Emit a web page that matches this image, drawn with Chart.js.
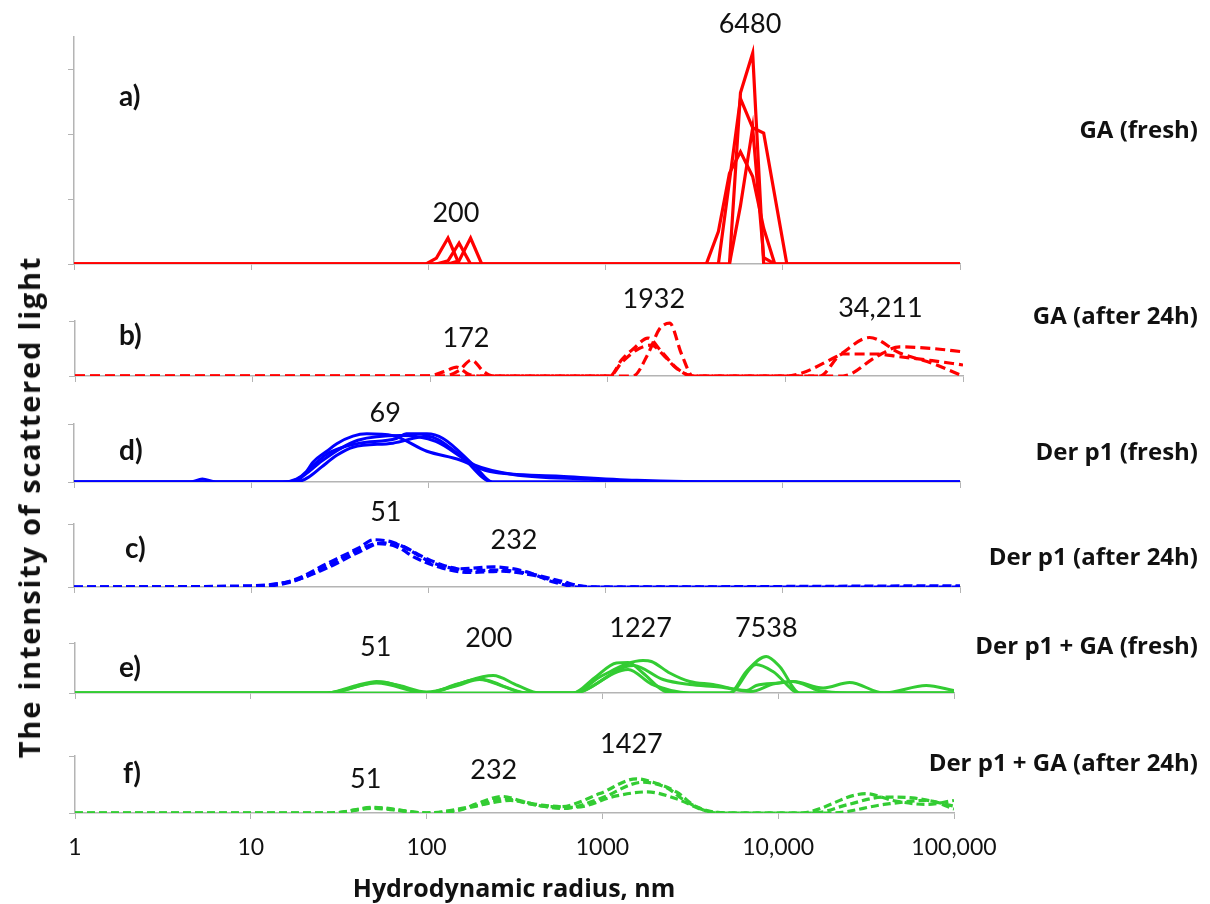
<!DOCTYPE html>
<html>
<head>
<meta charset="utf-8">
<title>Hydrodynamic radius distributions</title>
<script src="https://cdn.jsdelivr.net/npm/chart.js@4.4.1/dist/chart.umd.min.js"></script>
<style>
  body { margin: 0; background: #fff; }
  #wrap { position: relative; width: 1210px; height: 904px; background: #fff; overflow: hidden; }
  #wrap canvas { position: absolute; left: 0; top: 0; }
  .axisTitle { position: absolute; font-family: "Open Sans", sans-serif; font-weight: bold; color: #111; white-space: nowrap; }
  #xTitle { left: 514px; top: 875px; font-size: 25px; line-height: 24px; transform: translateX(-50%); }
  #yTitle { left: 29px; top: 507px; font-size: 29px; line-height: 30px; letter-spacing: 1.8px; transform: translate(-50%, -50%) rotate(-90deg); }
</style>
</head>
<body>
<div id="wrap">
  <canvas id="pa" width="1210" height="904"></canvas>
  <canvas id="pb" width="1210" height="904"></canvas>
  <canvas id="pd" width="1210" height="904"></canvas>
  <canvas id="pc" width="1210" height="904"></canvas>
  <canvas id="pe" width="1210" height="904"></canvas>
  <canvas id="pf" width="1210" height="904"></canvas>
  <div class="axisTitle" id="xTitle">Hydrodynamic radius, nm</div>
  <div class="axisTitle" id="yTitle">The intensity of scattered light</div>
</div>
<script>
// eje x compartido (radio, nm)
const xDecades = [1, 10, 100, 1000, 10000, 100000];
const xTickLabels = ['1', '10', '100', '1000', '10,000', '100,000'];

// a) GA (fresh)  -  [radio, intensidad]
const gaFresh1 = [[1, 0], [97, 0], [111, 0.9], [129, 4.0], [149, 0], [5000, 0], [5770, 26.4], [6760, 32.5], [7800, 0], [100000, 0]];
const gaFresh2 = [[1, 0], [111, 0], [129, 0.5], [149, 3.2], [173, 0], [3700, 0], [4330, 5.0], [5000, 14.0], [5770, 17.3], [6760, 13.5], [7800, 5.5], [9010, 0], [100000, 0]];
const gaFresh3 = [[1, 0], [129, 0], [149, 0.5], [173, 4.0], [200, 0], [4330, 0], [5770, 25.5], [6760, 21.0], [7800, 20.2], [10540, 0], [100000, 0]];
const gaFresh4 = [[1, 0], [5000, 0], [5770, 9.0], [6760, 21.0], [7800, 1.0], [9010, 0], [100000, 0]];

// b) GA (after 24h)
const gaAged1 = [[1, 0], [97, 0], [120, 0.8], [141, 1.6], [165, 0.3], [190, 0], [1025, 0], [1200, 3.0], [1400, 5.0], [1683, 6.9], [2000, 4.5], [2430, 1.5], [3017, 0], [10000, 0], [15600, 0], [21100, 4.0], [32500, 4.0], [44000, 3.5], [67000, 2.8], [100000, 2.0]];
const gaAged2 = [[1, 0], [120, 0], [145, 1.0], [171, 2.9], [200, 0.8], [225, 0], [1386, 0], [1683, 4.0], [1950, 8.5], [2230, 9.6], [2600, 4.0], [3017, 0], [21100, 0], [32500, 3.5], [44000, 5.3], [67000, 5.0], [100000, 4.4]];
const gaAged3 = [[1, 0], [1025, 0], [1200, 2.5], [1500, 5.0], [1760, 5.6], [2100, 3.5], [2432, 1.4], [3017, 0], [10100, 0], [19300, 3.5], [29800, 7.0], [44000, 4.2], [67000, 2.3], [100000, 0]];

// d) Der p1 (fresh)
const derFresh1 = [[1, 0], [4.5, 0], [5.3, 0.5], [6.3, 0], [15, 0], [18, 0.5], [20.5, 1.8], [22.3, 3.4], [26.7, 5.3], [30.4, 6.6], [37.5, 7.9], [44.9, 8.3], [63, 8.0], [98, 5.3], [151, 3.8], [183, 2.7], [223, 1.8], [553, 1.0], [1500, 0.3], [5000, 0], [100000, 0]];
const derFresh2 = [[1, 0], [16, 0], [19, 0.8], [22.3, 2.8], [26.7, 4.8], [33, 6.0], [41, 6.7], [66, 7.5], [75, 8.3], [98, 8.3], [121, 7.5], [183, 2.7], [230, 0], [100000, 0]];
const derFresh3 = [[1, 0], [18, 0], [21, 0.8], [25, 2.6], [30.4, 4.6], [37.5, 6.0], [63, 6.7], [98, 7.9], [151, 4.6], [230, 0], [100000, 0]];
const derFresh4 = [[1, 0], [17, 0], [20, 1.2], [25, 3.6], [32, 5.8], [40, 7.2], [70, 8.0], [110, 7.0], [183, 2.9], [300, 1.3], [800, 0.5], [2000, 0], [100000, 0]];

// c) Der p1 (after 24h)
const derAged1 = [[1, 0], [10, 0.1], [17.3, 1.1], [26.7, 3.7], [41, 6.3], [49, 7.5], [63, 7.1], [79, 5.8], [102, 4.0], [151, 2.9], [232, 3.2], [359, 2.4], [507, 0.8], [717, 0], [100000, 0]];
const derAged2 = [[1, 0], [10, 0.2], [17.3, 1.0], [26.7, 3.0], [41, 5.6], [55, 7.0], [70, 6.6], [90, 5.0], [120, 3.5], [180, 2.6], [240, 2.7], [359, 2.2], [550, 1.0], [800, 0], [100000, 0.2]];
const derAged3 = [[1, 0], [10, 0], [17.3, 0.9], [26.7, 3.3], [41, 6.0], [52, 6.9], [66, 6.4], [85, 4.6], [120, 3.0], [170, 2.3], [260, 2.5], [400, 1.8], [600, 0.5], [900, 0], [100000, 0]];

// e) Der p1 + GA (fresh)
const mixFresh1 = [[1, 0], [27, 0], [40, 1.5], [52, 2.3], [70, 1.5], [100, 0.2], [150, 1.5], [200, 2.7], [280, 1.2], [370, 0], [681, 0], [900, 3.0], [1202, 6.0], [1400, 6.1], [1700, 4.0], [2213, 0.5], [2600, 0], [5295, 0], [6590, 4.3], [8550, 7.3], [10190, 5.3], [13250, 0], [100000, 0]];
const mixFresh2 = [[1, 0], [27, 0], [52, 2.0], [100, 0], [150, 1.8], [239, 3.5], [330, 1.5], [440, 0], [681, 0], [1000, 3.5], [1703, 6.5], [1900, 6.3], [2415, 4.0], [3137, 2.3], [4252, 1.7], [6590, 0.5], [7505, 1.5], [10190, 2.0], [12130, 2.3], [18000, 1.0], [25480, 2.1], [40000, 0], [69500, 1.5], [100000, 0.5]];
const mixFresh3 = [[1, 0], [27, 0], [55, 2.2], [100, 0], [200, 2.8], [370, 0], [681, 0], [1400, 4.7], [1900, 1.8], [3137, 0], [5295, 0], [7505, 5.7], [9330, 4.3], [13250, 0], [100000, 0]];
const mixFresh4 = [[1, 0], [681, 0], [1500, 5.5], [2213, 2.7], [3137, 1.7], [4642, 1.2], [7000, 0.3], [9330, 1.8], [12130, 2.3], [17000, 0.5], [25000, 0], [100000, 0]];

// f) Der p1 + GA (after 24h)
const mixAged1 = [[1, 0], [29, 0], [50, 1.0], [100, 0], [154, 0.5], [192, 1.6], [272, 2.9], [339, 2.2], [460, 1.2], [572, 1.1], [966, 3.4], [1562, 6.0], [1940, 5.4], [2636, 3.7], [3423, 1.1], [5295, 0], [13250, 0], [31700, 3.4], [44900, 2.2], [70000, 1.5], [100000, 2.2]];
const mixAged2 = [[1, 0], [29, 0], [50, 0.8], [100, 0], [192, 1.2], [272, 2.5], [400, 1.5], [600, 0.8], [966, 2.5], [1700, 5.4], [2300, 4.5], [3000, 2.0], [4500, 0], [16000, 0], [25000, 1.5], [40000, 2.8], [60000, 2.6], [100000, 1.2]];
const mixAged3 = [[1, 0], [29, 0], [50, 0.9], [100, 0], [200, 1.4], [300, 2.2], [450, 1.4], [700, 1.0], [1200, 3.0], [1800, 3.7], [2636, 2.5], [4000, 0.3], [6000, 0], [20000, 0], [40000, 1.5], [70000, 2.2], [100000, 0.7]];

// etiquetas de los picos: [texto, radio, altura]
const aPeaks = [['6480', 6531, 35.6], ['200', 143, 6.5]];
const bPeaks = [['172', 159, 5.3], ['1932', 1817, 12.3], ['34,211', 34270, 10.7]];
const dPeaks = [['69', 57, 10.4]];
const cPeaks = [['51', 57.5, 10.5], ['232', 304, 6.1]];
const ePeaks = [['51', 51.3, 7.5], ['200', 226, 9.3], ['1227', 1648, 11.3], ['7538', 8550, 11.3]];
const fPeaks = [['51', 45, 4.3], ['232', 241, 5.9], ['1427', 1462, 10.5]];

const RED = '#ff0000';
const BLUE = '#0000ff';
const GREEN = '#33cc33';
const AXIS = '#b4b4b4';
const TEXT = '#111111';
const LABEL_ROOM = 60;   // espacio para las etiquetas del eje x inferior

const panels = [
    { id: 'pa', box: [74, 37, 960, 264], yMax: 35, yTicks: [0, 10, 20, 30], color: RED, dash: [], width: 3.2, smooth: false,
      curves: [gaFresh1, gaFresh2, gaFresh3, gaFresh4], letter: 'a)', letterAt: [119, 106], name: 'GA (fresh)', nameY: 138, peaks: aPeaks },
    { id: 'pb', box: [75, 321, 963, 376], yMax: 10, yTicks: [0, 10], color: RED, dash: [10, 5], width: 3.2, smooth: true,
      curves: [gaAged1, gaAged2, gaAged3], letter: 'b)', letterAt: [119, 345], name: 'GA (after 24h)', nameY: 324, peaks: bPeaks },
    { id: 'pd', box: [74, 424, 960, 482], yMax: 10, yTicks: [0, 10], color: BLUE, dash: [], width: 3, smooth: true,
      curves: [derFresh1, derFresh2, derFresh3, derFresh4], letter: 'd)', letterAt: [119, 460], name: 'Der p1 (fresh)', nameY: 460, peaks: dPeaks },
    { id: 'pc', box: [74, 524, 960, 587], yMax: 10, yTicks: [0, 10], color: BLUE, dash: [9, 4], width: 3.2, smooth: true,
      curves: [derAged1, derAged2, derAged3], letter: 'c)', letterAt: [125, 558], name: 'Der p1 (after 24h)', nameY: 565, peaks: cPeaks },
    { id: 'pe', box: [75, 643, 954, 693], yMax: 10, yTicks: [0, 10], color: GREEN, dash: [], width: 3, smooth: true,
      curves: [mixFresh1, mixFresh2, mixFresh3, mixFresh4], letter: 'e)', letterAt: [119, 677], name: 'Der p1 + GA (fresh)', nameY: 654, peaks: ePeaks },
    { id: 'pf', box: [75, 756, 954, 813], yMax: 10, yTicks: [0, 10], color: GREEN, dash: [8, 4], width: 3.2, smooth: true,
      curves: [mixAged1, mixAged2, mixAged3], letter: 'f)', letterAt: [123, 783], name: 'Der p1 + GA (after 24h)', nameY: 771, peaks: fPeaks, last: true }
];

// Textos de cada panel (letra, nombre y valores de los picos)
function drawPanelText(chart, p) {
    const { ctx } = chart;
    const x = chart.scales.x;
    const y = chart.scales.y;
    ctx.save();
    ctx.fillStyle = TEXT;
    ctx.textBaseline = 'alphabetic';

    ctx.font = 'bold 28px Lato';
    ctx.textAlign = 'left';
    ctx.fillText(p.letter, p.letterAt[0], p.letterAt[1]);

    ctx.font = 'bold 24px "Open Sans"';
    ctx.textAlign = 'right';
    ctx.fillText(p.name, 1198, p.nameY);

    ctx.font = '27px Lato';
    ctx.textAlign = 'center';
    p.peaks.forEach(([t, xv, yv]) => {
        ctx.fillText(t, x.getPixelForValue(xv), y.getPixelForValue(yv));
    });
    ctx.restore();
}

panels.forEach(p => {
    const [L, T, R, B] = p.box;
    const room = p.last ? LABEL_ROOM : 0;
    new Chart(document.getElementById(p.id), {
        type: 'line',
        data: {
            datasets: p.curves.map(c => ({
                data: c.map(([rx, iy]) => ({ x: rx, y: iy })),
                borderColor: p.color,
                borderWidth: p.width,
                borderDash: p.dash,
                pointRadius: 0,
                fill: false,
                tension: p.smooth ? 0.4 : 0,
                cubicInterpolationMode: p.smooth ? 'monotone' : 'default'
            }))
        },
        options: {
            responsive: false,
            animation: false,
            devicePixelRatio: 1,
            events: [],
            layout: { padding: { left: L, top: T, right: 1210 - R, bottom: 904 - B - room } },
            plugins: {
                legend: { display: false },
                tooltip: { enabled: false },
                title: { display: false }
            },
            scales: {
                x: {
                    type: 'logarithmic',
                    min: 1,
                    max: 100000,
                    afterFit: s => { s.height = room; },
                    afterBuildTicks: s => { s.ticks = xDecades.map(v => ({ value: v })); },
                    grid: { drawOnChartArea: false, drawTicks: true, tickLength: 6, color: AXIS, lineWidth: 1 },
                    border: { display: true, color: AXIS, width: 1.5 },
                    ticks: {
                        display: !!p.last,
                        autoSkip: false,
                        maxRotation: 0,
                        padding: 15,
                        color: TEXT,
                        font: { family: 'Lato', size: 23 },
                        callback: (v, i) => xTickLabels[i]
                    }
                },
                y: {
                    min: 0,
                    max: p.yMax,
                    afterFit: s => { s.width = 0; },
                    afterBuildTicks: s => { s.ticks = p.yTicks.map(v => ({ value: v })); },
                    grid: { drawOnChartArea: false, drawTicks: true, tickLength: 6, color: AXIS, lineWidth: 1 },
                    border: { display: true, color: AXIS, width: 1.5 },
                    ticks: { display: false }
                }
            }
        },
        plugins: [{ id: 'panelText', afterDraw: chart => drawPanelText(chart, p) }]
    });
});
</script>
</body>
</html>
